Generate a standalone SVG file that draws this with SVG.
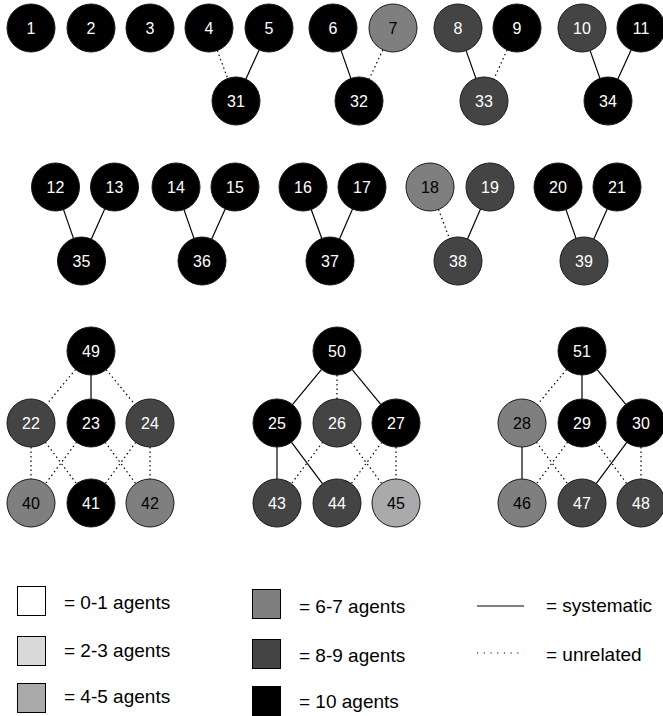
<svg xmlns="http://www.w3.org/2000/svg" width="663" height="716" viewBox="0 0 663 716">
<style>
.n circle{stroke:#1a1a1a;stroke-width:1}
.k{fill:#000}
.d{fill:#444}
.m{fill:#7f7f7f}
.l{fill:#aaa}
.n text{font-family:"Liberation Sans",Arial,sans-serif;font-size:16px;text-anchor:middle}
.w{fill:#fff}
.b{fill:#000}
#edges line{stroke:#000;stroke-width:1.2}
#edges line.u{stroke-dasharray:1.5 3}
.lg text{font-family:"Liberation Sans",Arial,sans-serif;font-size:19px;fill:#000}
.lg rect{stroke:#000;stroke-width:1}
</style>
<rect width="663" height="716" fill="#fff"/>
<g id="edges">
<line class="u" x1="217.3" y1="50.5" x2="227.7" y2="78.5"/>
<line x1="259.1" y1="49.9" x2="245.9" y2="79.1"/>
<line x1="341.1" y1="50.6" x2="350.9" y2="78.4"/>
<line class="u" x1="382.9" y1="49.8" x2="369.1" y2="79.2"/>
<line x1="466.1" y1="50.6" x2="475.9" y2="78.4"/>
<line class="u" x1="507.1" y1="49.9" x2="493.9" y2="79.1"/>
<line x1="590.1" y1="50.6" x2="599.9" y2="78.4"/>
<line x1="631.1" y1="49.9" x2="617.9" y2="79.1"/>
<line x1="63.5" y1="209.6" x2="73.5" y2="238.4"/>
<line x1="104.7" y1="208.9" x2="91.3" y2="239.1"/>
<line x1="184" y1="209.6" x2="194" y2="238.4"/>
<line x1="225.2" y1="208.9" x2="211.8" y2="239.1"/>
<line x1="311.2" y1="209.5" x2="321.8" y2="238.5"/>
<line x1="352.5" y1="209" x2="339.5" y2="239"/>
<line class="u" x1="438.5" y1="209.4" x2="449.5" y2="238.6"/>
<line x1="480.5" y1="209" x2="467.5" y2="239"/>
<line x1="566" y1="209.6" x2="576" y2="238.4"/>
<line x1="607.2" y1="208.9" x2="593.8" y2="239.1"/>
<line class="u" x1="75.6" y1="369.4" x2="46.4" y2="404.6"/>
<line x1="91" y1="375" x2="91" y2="399"/>
<line class="u" x1="106.2" y1="369.6" x2="134.8" y2="404.4"/>
<line class="u" x1="31" y1="447" x2="31" y2="479"/>
<line class="u" x1="45.4" y1="442.2" x2="76.6" y2="483.8"/>
<line class="u" x1="76.6" y1="442.2" x2="45.4" y2="483.8"/>
<line class="u" x1="105.2" y1="442.3" x2="135.8" y2="483.7"/>
<line class="u" x1="135.8" y1="442.3" x2="105.2" y2="483.7"/>
<line class="u" x1="150" y1="447" x2="150" y2="479"/>
<line x1="321.6" y1="369.4" x2="292.4" y2="404.6"/>
<line class="u" x1="337" y1="375" x2="337" y2="399"/>
<line x1="352.2" y1="369.6" x2="380.8" y2="404.4"/>
<line x1="277" y1="447" x2="277" y2="479"/>
<line x1="291.4" y1="442.2" x2="322.6" y2="483.8"/>
<line class="u" x1="322.6" y1="442.2" x2="291.4" y2="483.8"/>
<line class="u" x1="351.2" y1="442.3" x2="381.8" y2="483.7"/>
<line class="u" x1="381.8" y1="442.3" x2="351.2" y2="483.7"/>
<line class="u" x1="396" y1="447" x2="396" y2="479"/>
<line class="u" x1="566.6" y1="369.4" x2="537.4" y2="404.6"/>
<line x1="582" y1="375" x2="582" y2="399"/>
<line x1="597.2" y1="369.6" x2="625.8" y2="404.4"/>
<line x1="522" y1="447" x2="522" y2="479"/>
<line class="u" x1="536.4" y1="442.2" x2="567.6" y2="483.8"/>
<line class="u" x1="567.6" y1="442.2" x2="536.4" y2="483.8"/>
<line class="u" x1="596.2" y1="442.3" x2="626.8" y2="483.7"/>
<line x1="626.8" y1="442.3" x2="596.2" y2="483.7"/>
<line class="u" x1="641" y1="447" x2="641" y2="479"/>
</g>
<g id="n1" class="n"><circle class="k" cx="31" cy="28" r="24"/><text class="w" x="31" y="33.7">1</text></g>
<g id="n2" class="n"><circle class="k" cx="91" cy="28" r="24"/><text class="w" x="91" y="33.7">2</text></g>
<g id="n3" class="n"><circle class="k" cx="150" cy="28" r="24"/><text class="w" x="150" y="33.7">3</text></g>
<g id="n4" class="n"><circle class="k" cx="209" cy="28" r="24"/><text class="w" x="209" y="33.7">4</text></g>
<g id="n5" class="n"><circle class="k" cx="269" cy="28" r="24"/><text class="w" x="269" y="33.7">5</text></g>
<g id="n6" class="n"><circle class="k" cx="333" cy="28" r="24"/><text class="w" x="333" y="33.7">6</text></g>
<g id="n7" class="n"><circle class="m" cx="393" cy="28" r="24"/><text class="b" x="393" y="33.7">7</text></g>
<g id="n8" class="n"><circle class="d" cx="458" cy="28" r="24"/><text class="w" x="458" y="33.7">8</text></g>
<g id="n9" class="n"><circle class="k" cx="517" cy="28" r="24"/><text class="w" x="517" y="33.7">9</text></g>
<g id="n10" class="n"><circle class="d" cx="582" cy="28" r="24"/><text class="w" x="582" y="33.7">10</text></g>
<g id="n11" class="n"><circle class="k" cx="641" cy="28" r="24"/><text class="w" x="641" y="33.7">11</text></g>
<g id="n31" class="n"><circle class="k" cx="236" cy="101" r="24"/><text class="w" x="236" y="106.7">31</text></g>
<g id="n32" class="n"><circle class="k" cx="359" cy="101" r="24"/><text class="w" x="359" y="106.7">32</text></g>
<g id="n33" class="n"><circle class="d" cx="484" cy="101" r="24"/><text class="w" x="484" y="106.7">33</text></g>
<g id="n34" class="n"><circle class="k" cx="608" cy="101" r="24"/><text class="w" x="608" y="106.7">34</text></g>
<g id="n12" class="n"><circle class="k" cx="55.5" cy="187" r="24"/><text class="w" x="55.5" y="192.7">12</text></g>
<g id="n13" class="n"><circle class="k" cx="114.5" cy="187" r="24"/><text class="w" x="114.5" y="192.7">13</text></g>
<g id="n14" class="n"><circle class="k" cx="176" cy="187" r="24"/><text class="w" x="176" y="192.7">14</text></g>
<g id="n15" class="n"><circle class="k" cx="235" cy="187" r="24"/><text class="w" x="235" y="192.7">15</text></g>
<g id="n16" class="n"><circle class="k" cx="303" cy="187" r="24"/><text class="w" x="303" y="192.7">16</text></g>
<g id="n17" class="n"><circle class="k" cx="362" cy="187" r="24"/><text class="w" x="362" y="192.7">17</text></g>
<g id="n18" class="n"><circle class="m" cx="430" cy="187" r="24"/><text class="b" x="430" y="192.7">18</text></g>
<g id="n19" class="n"><circle class="d" cx="490" cy="187" r="24"/><text class="w" x="490" y="192.7">19</text></g>
<g id="n20" class="n"><circle class="k" cx="558" cy="187" r="24"/><text class="w" x="558" y="192.7">20</text></g>
<g id="n21" class="n"><circle class="k" cx="617" cy="187" r="24"/><text class="w" x="617" y="192.7">21</text></g>
<g id="n35" class="n"><circle class="k" cx="81.5" cy="261" r="24"/><text class="w" x="81.5" y="266.7">35</text></g>
<g id="n36" class="n"><circle class="k" cx="202" cy="261" r="24"/><text class="w" x="202" y="266.7">36</text></g>
<g id="n37" class="n"><circle class="k" cx="330" cy="261" r="24"/><text class="w" x="330" y="266.7">37</text></g>
<g id="n38" class="n"><circle class="d" cx="458" cy="261" r="24"/><text class="w" x="458" y="266.7">38</text></g>
<g id="n39" class="n"><circle class="d" cx="584" cy="261" r="24"/><text class="w" x="584" y="266.7">39</text></g>
<g id="n49" class="n"><circle class="k" cx="91" cy="351" r="24"/><text class="w" x="91" y="356.7">49</text></g>
<g id="n22" class="n"><circle class="d" cx="31" cy="423" r="24"/><text class="w" x="31" y="428.7">22</text></g>
<g id="n23" class="n"><circle class="k" cx="91" cy="423" r="24"/><text class="w" x="91" y="428.7">23</text></g>
<g id="n24" class="n"><circle class="d" cx="150" cy="423" r="24"/><text class="w" x="150" y="428.7">24</text></g>
<g id="n40" class="n"><circle class="m" cx="31" cy="503" r="24"/><text class="b" x="31" y="508.7">40</text></g>
<g id="n41" class="n"><circle class="k" cx="91" cy="503" r="24"/><text class="w" x="91" y="508.7">41</text></g>
<g id="n42" class="n"><circle class="m" cx="150" cy="503" r="24"/><text class="b" x="150" y="508.7">42</text></g>
<g id="n50" class="n"><circle class="k" cx="337" cy="351" r="24"/><text class="w" x="337" y="356.7">50</text></g>
<g id="n25" class="n"><circle class="k" cx="277" cy="423" r="24"/><text class="w" x="277" y="428.7">25</text></g>
<g id="n26" class="n"><circle class="d" cx="337" cy="423" r="24"/><text class="w" x="337" y="428.7">26</text></g>
<g id="n27" class="n"><circle class="k" cx="396" cy="423" r="24"/><text class="w" x="396" y="428.7">27</text></g>
<g id="n43" class="n"><circle class="d" cx="277" cy="503" r="24"/><text class="w" x="277" y="508.7">43</text></g>
<g id="n44" class="n"><circle class="d" cx="337" cy="503" r="24"/><text class="w" x="337" y="508.7">44</text></g>
<g id="n45" class="n"><circle class="l" cx="396" cy="503" r="24"/><text class="b" x="396" y="508.7">45</text></g>
<g id="n51" class="n"><circle class="k" cx="582" cy="351" r="24"/><text class="w" x="582" y="356.7">51</text></g>
<g id="n28" class="n"><circle class="m" cx="522" cy="423" r="24"/><text class="b" x="522" y="428.7">28</text></g>
<g id="n29" class="n"><circle class="k" cx="582" cy="423" r="24"/><text class="w" x="582" y="428.7">29</text></g>
<g id="n30" class="n"><circle class="k" cx="641" cy="423" r="24"/><text class="w" x="641" y="428.7">30</text></g>
<g id="n46" class="n"><circle class="m" cx="522" cy="503" r="24"/><text class="b" x="522" y="508.7">46</text></g>
<g id="n47" class="n"><circle class="d" cx="582" cy="503" r="24"/><text class="w" x="582" y="508.7">47</text></g>
<g id="n48" class="n"><circle class="d" cx="641" cy="503" r="24"/><text class="w" x="641" y="508.7">48</text></g>
<g id="legend" class="lg">
<rect x="17.5" y="586.5" width="28" height="29" fill="#fff"/>
<text x="64" y="609">= 0-1 agents</text>
<rect x="17.5" y="636.5" width="28" height="29" fill="#d9d9d9"/>
<text x="64" y="657">= 2-3 agents</text>
<rect x="17.5" y="683.5" width="28" height="29" fill="#aaa"/>
<text x="64" y="703">= 4-5 agents</text>
<rect x="252.5" y="589.5" width="28" height="29" fill="#7f7f7f"/>
<text x="299" y="613">= 6-7 agents</text>
<rect x="252.5" y="639.5" width="28" height="29" fill="#444"/>
<text x="299" y="662">= 8-9 agents</text>
<rect x="252.5" y="686.5" width="28" height="29" fill="#000"/>
<text x="299" y="708">= 10 agents</text>
<line x1="477" y1="606" x2="524" y2="606" stroke="#000" stroke-width="1.2"/>
<text x="546" y="612">= systematic</text>
<line x1="477" y1="653" x2="524" y2="653" stroke="#000" stroke-width="1.2" stroke-dasharray="1.2 5.5"/>
<text x="546" y="661">= unrelated</text>
</g>
</svg>
